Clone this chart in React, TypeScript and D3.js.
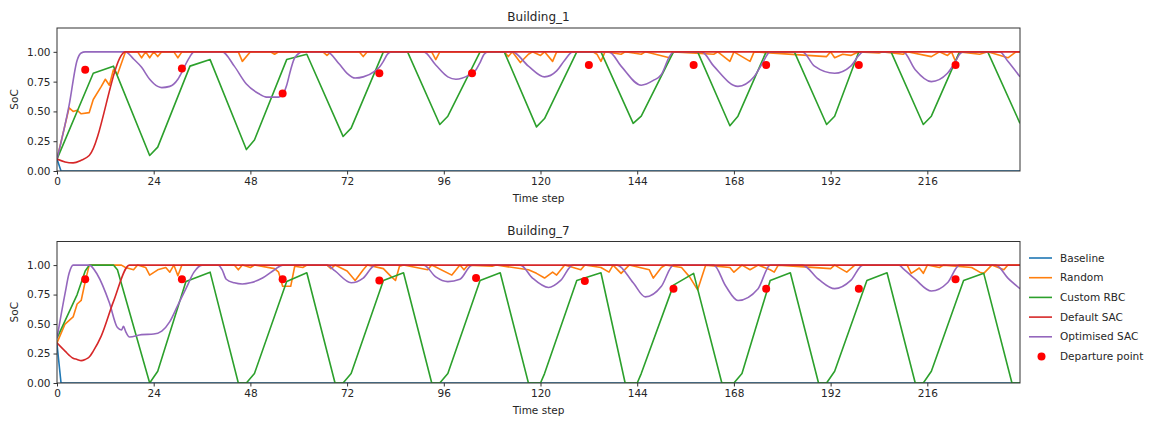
import React, { useEffect, useRef } from 'react';
import * as d3 from 'd3';

type Pt = [number, number];

// tick labels
const xTicks = [0, 24, 48, 72, 96, 120, 144, 168, 192, 216];
const yTicks = [0, 0.25, 0.5, 0.75, 1.0];

const seriesNames = ['Baseline', 'Random', 'Custom RBC', 'Default SAC', 'Optimised SAC'];
const seriesColors = ['#1f77b4', '#ff7f0e', '#2ca02c', '#d62728', '#9467bd'];

// ---- Building_1 ----
const b1Baseline: Pt[] = [[0, 0.1], [1, 0], [239, 0]];
const b1Random: Pt[] = [
  [0, 0.1], [3, 0.53], [4, 0.5], [5, 0.51], [6, 0.48], [8, 0.49], [9, 0.6], [11, 0.71], [12, 0.77], [13, 0.72],
  [14, 0.85], [15, 0.81], [17, 1.0], [20, 1.0], [21, 0.95], [22, 1.0], [23, 0.95], [24, 1.0], [25, 0.96], [26, 1.0],
  [29, 1.0], [30, 0.95], [31, 1.0], [45, 1.0], [46, 0.92], [48, 1.0], [53, 1.0], [54, 0.98], [55, 1.0], [66, 1.0],
  [67, 0.97], [68, 1.0], [75, 1.0], [76, 0.96], [77, 1.0], [93, 1.0], [94, 0.935], [95, 1.0], [111, 1.0], [112, 0.96],
  [113, 1.0], [115, 0.91], [117, 0.98], [118, 1.0], [120, 0.97], [121, 1.0], [123, 0.92], [124, 1.0], [133, 1.0],
  [134, 0.98], [135, 0.92], [136, 1.0], [140, 0.98], [141, 1.0], [145, 0.98], [146, 1.0], [152, 0.95], [153, 1.0],
  [163, 0.98], [164, 1.0], [167, 0.92], [168, 1.0], [172, 0.92], [173, 1.0], [191, 0.96], [192, 1.0], [193, 0.95],
  [195, 0.98], [197, 0.97], [199, 1.0], [204, 0.99], [205, 1.0], [210, 0.98], [211, 1.0], [217, 0.96], [219, 1.0],
  [221, 0.97], [222, 1.0], [223, 0.92], [224, 1.0], [229, 0.98], [231, 1.0], [236, 0.95], [238, 1.0], [239, 1.0],
];
const b1Rbc: Pt[] = [
  [0, 0.1], [9, 0.82], [14, 0.88], [23, 0.13], [25, 0.2], [33, 0.88], [38, 0.935], [47, 0.18], [49, 0.26],
  [57, 0.935], [62, 0.98], [71, 0.29], [73, 0.36], [81, 1.0], [87, 1.0], [95, 0.39], [97, 0.46], [105, 1.0],
  [111, 1.0], [119, 0.37], [121, 0.44], [129, 1.0], [135, 1.0], [143, 0.4], [145, 0.46], [153, 1.0], [159, 1.0],
  [167, 0.38], [169, 0.46], [176, 1.0], [183, 1.0], [191, 0.39], [193, 0.46], [199, 1.0], [207, 1.0], [215, 0.39],
  [217, 0.46], [224, 1.0], [231, 1.0], [239, 0.4],
];
const b1DefaultSac: Pt[] = [[0, 0.1], [2, 0.076], [4, 0.068], [6, 0.09], [8, 0.13], [17, 1.0], [239, 1.0]];
const b1OptSac: Pt[] = [
  [0, 0.1], [3, 0.55], [5, 0.93], [6, 0.99], [7, 1.0], [17, 1.0], [19, 0.94], [21, 0.87], [23, 0.77], [25, 0.71],
  [26, 0.7], [28, 0.71], [30, 0.77], [31, 0.83], [32, 0.9], [33, 0.96], [34, 1.0], [41, 1.0], [44, 0.88], [47, 0.73],
  [50, 0.65], [52, 0.62], [55, 0.62], [56, 0.64], [57, 0.72], [58, 0.85], [59, 0.95], [61, 1.0], [67, 1.0],
  [70, 0.9], [72, 0.82], [74, 0.78], [76, 0.79], [79, 0.84], [80, 0.87], [81, 0.92], [82, 0.98], [83, 1.0],
  [91, 1.0], [94, 0.89], [97, 0.79], [99, 0.77], [102, 0.8], [104, 0.85], [105, 0.91], [106, 0.98], [107, 1.0],
  [113, 1.0], [117, 0.88], [121, 0.79], [124, 0.84], [126, 0.93], [128, 1.0], [137, 1.0], [140, 0.88], [145, 0.72],
  [148, 0.76], [150, 0.81], [152, 0.96], [153, 1.0], [160, 1.0], [163, 0.88], [169, 0.71], [173, 0.79], [175, 0.9],
  [177, 1.0], [185, 1.0], [188, 0.88], [193, 0.82], [197, 0.88], [199, 0.97], [200, 1.0], [210, 1.0], [213, 0.85],
  [217, 0.75], [221, 0.82], [223, 0.92], [224, 0.98], [225, 1.0], [234, 1.0], [236, 0.92], [239, 0.79],
];
const b1Departure: Pt[] = [
  [7, 0.85], [31, 0.86], [56, 0.65], [80, 0.82], [103, 0.82], [132, 0.89], [158, 0.89], [176, 0.89], [199, 0.89], [223, 0.89],
];

// ---- Building_7 ----
const b7Baseline: Pt[] = [[0, 0.33], [1, 0], [239, 0]];
const b7Random: Pt[] = [
  [0, 0.34], [2, 0.5], [4, 0.56], [5, 0.67], [6, 0.7], [7, 0.86], [8, 1.0], [16, 1.0], [17, 0.98], [19, 0.96],
  [20, 1.0], [22, 0.98], [23, 0.915], [25, 0.96], [27, 0.98], [28, 0.94], [29, 1.0], [30, 0.91], [31, 1.0],
  [44, 1.0], [45, 0.96], [46, 1.0], [48, 0.98], [49, 1.0], [54, 0.97], [55, 0.94], [56, 0.82], [58, 0.82],
  [59, 0.99], [61, 0.98], [62, 1.0], [67, 1.0], [68, 0.97], [69, 1.0], [72, 0.95], [74, 0.87], [76, 0.96],
  [77, 1.0], [81, 0.97], [83, 0.9], [84, 0.87], [85, 0.99], [86, 1.0], [92, 0.96], [93, 1.0], [98, 0.915],
  [100, 1.0], [101, 0.96], [102, 1.0], [108, 0.99], [109, 1.0], [117, 0.96], [119, 0.93], [121, 0.89], [123, 0.94],
  [124, 0.915], [126, 1.0], [130, 0.96], [131, 1.0], [135, 0.98], [137, 0.94], [138, 1.0], [140, 0.93], [142, 1.0],
  [147, 0.96], [148, 0.89], [150, 0.98], [151, 1.0], [155, 0.98], [157, 0.9], [159, 0.79], [161, 1.0], [167, 0.98],
  [168, 0.94], [170, 1.0], [172, 0.96], [174, 1.0], [177, 0.96], [178, 0.94], [179, 1.0], [192, 0.97], [193, 1.0],
  [196, 0.94], [198, 1.0], [211, 1.0], [212, 0.93], [214, 0.975], [215, 0.93], [216, 1.0], [219, 0.98], [220, 1.0],
  [227, 0.98], [229, 0.94], [230, 0.93], [232, 1.0], [235, 0.96], [236, 1.0], [239, 1.0],
];
const b7Rbc: Pt[] = [
  [0, 0.38], [5, 0.75], [7, 0.95], [8, 1.0], [14, 1.0], [15, 0.96], [23, 0], [25, 0.1], [32, 0.86], [38, 0.94],
  [45, 0], [47, 0], [49, 0.08], [57, 0.86], [62, 0.935], [69, 0], [71, 0], [73, 0.08], [81, 0.87], [86, 0.935],
  [93, 0], [95, 0], [97, 0.08], [105, 0.87], [110, 0.935], [117, 0], [120, 0], [121, 0.08], [129, 0.87],
  [135, 0.935], [141, 0], [144, 0], [145, 0.08], [153, 0.83], [158, 0.93], [165, 0], [168, 0], [170, 0.08],
  [177, 0.87], [182, 0.935], [189, 0], [191, 0], [193, 0.1], [201, 0.87], [206, 0.935], [213, 0], [215, 0],
  [217, 0.1], [225, 0.87], [230, 0.93], [237, 0], [239, 0],
];
const b7DefaultSac: Pt[] = [
  [0, 0.34], [2, 0.27], [4, 0.21], [5, 0.2], [6, 0.19], [7, 0.2], [8, 0.22], [9, 0.27], [11, 0.4], [14, 0.69],
  [18, 1.0], [239, 1.0],
];
const b7OptSac: Pt[] = [
  [0, 0.38], [2, 0.76], [3, 0.93], [4, 1.0], [8, 1.0], [10, 0.92], [13, 0.68], [15, 0.47], [16, 0.45], [16.5, 0.48],
  [17, 0.44], [18, 0.39], [21, 0.41], [24, 0.415], [26, 0.44], [28, 0.52], [30, 0.66], [32, 0.8], [34, 0.94],
  [36, 1.0], [40, 1.0], [41, 0.96], [42, 0.88], [44, 0.85], [46, 0.84], [48, 0.85], [51, 0.89], [54, 0.96],
  [56, 1.0], [67, 1.0], [69, 0.95], [73, 0.85], [76, 0.89], [79, 1.0], [91, 1.0], [94, 0.9], [97, 0.86],
  [100, 0.88], [103, 1.0], [115, 1.0], [118, 0.89], [122, 0.81], [125, 0.87], [128, 1.0], [139, 1.0], [143, 0.85],
  [146, 0.73], [150, 0.82], [153, 1.0], [163, 1.0], [166, 0.82], [169, 0.7], [174, 0.8], [177, 1.0], [185, 1.0],
  [189, 0.88], [193, 0.8], [197, 0.87], [200, 1.0], [209, 1.0], [210, 0.97], [213, 0.88], [217, 0.78], [221, 0.85],
  [224, 1.0], [233, 1.0], [236, 0.89], [239, 0.8],
];
const b7Departure: Pt[] = [
  [7, 0.88], [31, 0.88], [56, 0.88], [80, 0.87], [104, 0.89], [131, 0.865], [153, 0.8], [176, 0.8], [199, 0.8], [223, 0.88],
];

const panels = [
  { title: 'Building_1', top: 28, bottom: 171, series: [b1Baseline, b1Random, b1Rbc, b1DefaultSac, b1OptSac], dots: b1Departure },
  { title: 'Building_7', top: 241.5, bottom: 383, series: [b7Baseline, b7Random, b7Rbc, b7DefaultSac, b7OptSac], dots: b7Departure },
];

const W = 1154;
const H = 423;
const left = 57;
const right = 1020;
const font = 'DejaVu Sans, sans-serif';
const ink = '#262626';

function App() {
  const ref = useRef<SVGSVGElement>(null);

  useEffect(() => {
    const svg = d3.select(ref.current);
    svg.selectAll('*').remove();

    const x = d3.scaleLinear().domain([0, 239]).range([left, right]);

    panels.forEach((p) => {
      const y = d3.scaleLinear().domain([0, 1.2]).range([p.bottom, p.top]);
      const g = svg.append('g');

      g.append('defs').append('clipPath').attr('id', 'clip-' + p.title)
        .append('rect').attr('x', left).attr('y', p.top).attr('width', right - left).attr('height', p.bottom - p.top);

      const plot = g.append('g').attr('clip-path', `url(#clip-${p.title})`);

      // draw order: red on top of the other lines
      const order = [0, 1, 2, 4, 3];
      order.forEach((i) => {
        const line = d3.line<Pt>()
          .x((d) => x(d[0]))
          .y((d) => y(d[1]))
          .curve(i === 3 || i === 4 ? d3.curveMonotoneX : d3.curveLinear);
        plot.append('path')
          .attr('d', line(p.series[i]))
          .attr('fill', 'none')
          .attr('stroke', seriesColors[i])
          .attr('stroke-width', 1.6)
          .attr('stroke-linejoin', 'round');
      });

      plot.selectAll('circle.dep').data(p.dots).enter().append('circle')
        .attr('cx', (d) => x(d[0]))
        .attr('cy', (d) => y(d[1]))
        .attr('r', 4)
        .attr('fill', 'red');

      // frame
      g.append('rect')
        .attr('x', left).attr('y', p.top)
        .attr('width', right - left).attr('height', p.bottom - p.top)
        .attr('fill', 'none').attr('stroke', '#333').attr('stroke-width', 1);

      // x axis
      const xa = g.append('g').attr('transform', `translate(0,${p.bottom})`)
        .call(d3.axisBottom(x).tickValues(xTicks).tickSize(3.5).tickPadding(3).tickFormat(d3.format('d')));
      xa.select('.domain').remove();
      xa.selectAll('text').attr('font-family', font).attr('font-size', 10.5).attr('fill', ink);
      xa.selectAll('line').attr('stroke', '#333');

      // y axis
      const ya = g.append('g').attr('transform', `translate(${left},0)`)
        .call(d3.axisLeft(y).tickValues(yTicks).tickSize(3.5).tickPadding(3).tickFormat(d3.format('.2f')));
      ya.select('.domain').remove();
      ya.selectAll('text').attr('font-family', font).attr('font-size', 10.5).attr('fill', ink);
      ya.selectAll('line').attr('stroke', '#333');

      // title
      g.append('text')
        .attr('x', (left + right) / 2).attr('y', p.top - 7)
        .attr('text-anchor', 'middle')
        .attr('font-family', font).attr('font-size', 12).attr('fill', ink)
        .text(p.title);

      // axis labels
      g.append('text')
        .attr('x', (left + right) / 2).attr('y', p.bottom + 31)
        .attr('text-anchor', 'middle')
        .attr('font-family', font).attr('font-size', 10.5).attr('fill', ink)
        .text('Time step');

      g.append('text')
        .attr('transform', `translate(18,${(p.top + p.bottom) / 2}) rotate(-90)`)
        .attr('text-anchor', 'middle')
        .attr('font-family', font).attr('font-size', 10.5).attr('fill', ink)
        .text('SoC');
    });

    // legend
    const lg = svg.append('g').attr('transform', 'translate(1029,258)');
    const rowH = 19.7;
    seriesNames.forEach((name, i) => {
      lg.append('line')
        .attr('x1', 0).attr('x2', 23).attr('y1', i * rowH).attr('y2', i * rowH)
        .attr('stroke', seriesColors[i]).attr('stroke-width', 1.6);
      lg.append('text')
        .attr('x', 31).attr('y', i * rowH).attr('dy', '0.35em')
        .attr('font-family', font).attr('font-size', 10.5).attr('fill', ink)
        .text(name);
    });
    lg.append('circle').attr('cx', 12.5).attr('cy', 5 * rowH).attr('r', 4).attr('fill', 'red');
    lg.append('text')
      .attr('x', 31).attr('y', 5 * rowH).attr('dy', '0.35em')
      .attr('font-family', font).attr('font-size', 10.5).attr('fill', ink)
      .text('Departure point');
  }, []);

  return (
    <svg ref={ref} width={W} height={H} style={{ position: 'absolute', left: 0, top: 0, background: '#fff' }} />
  );
}

export default App;
